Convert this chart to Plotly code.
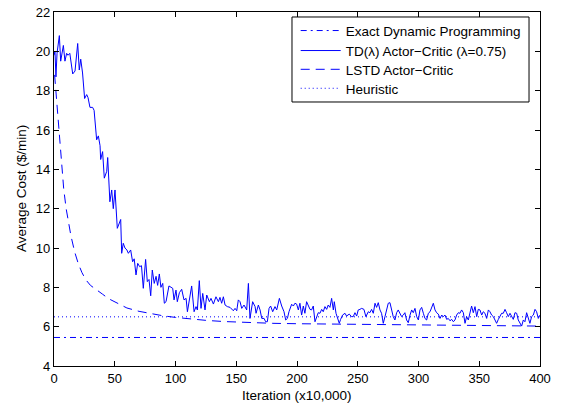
import plotly.graph_objects as go

# ---------------- data ----------------
td_x = [0, 0.8, 1.6, 2.5, 4.4, 5.5, 7.7, 9.0, 10.4, 11.5, 13.0, 15.4, 17.3, 19.5, 20.8, 22.0, 23.5, 25.2, 26.9, 28.0,
        29.6, 31.8, 33.0, 34.0, 35.1, 36.5, 37.9, 38.4, 40.0, 41.4, 43.4, 44.2, 46.0, 47.5, 48.8, 50.2, 52.1, 54.9, 55.7, 57.0,
        58.4, 60.0, 61.2, 63.1, 64.7, 66.0, 67.5, 68.9, 70.5, 72.0, 73.5, 75.4, 76.8, 78.2, 79.6, 80.9, 82.5, 84.0, 85.3, 86.7,
        88.0, 89.5, 90.8, 92.2, 93.4, 94.6,
        97.7, 98.8, 100.4, 101.5, 103.2, 105.1, 107.0, 108.7, 109.8, 111.4, 113.3, 115.3, 116.9, 118.0, 119.6, 121.0, 122.4,
        124.3, 125.7, 127.9, 129.2, 131.2, 133.3, 135.3, 136.6, 138.0, 139.4, 140.8, 142.7, 144.9, 147.6, 149.0, 150.4, 151.7,
        153.1, 154.5, 156.4, 158.6, 160.0, 161.3, 163.5, 165.5, 166.3, 168.2, 169.6, 171.0, 172.9, 174.2, 175.6, 177.0, 178.3,
        180.0, 181.9, 183.3, 185.5, 187.4, 189.3, 190.7, 192.1, 193.4,
        194.2, 195.6, 197.0, 198.3, 199.7, 201.1, 202.4, 203.8, 205.2, 206.5, 207.9, 209.3, 210.7, 212.0, 213.4, 214.8, 216.1,
        217.5, 218.9, 220.3, 221.6, 223.0, 224.4, 225.7, 227.1, 228.5, 229.9, 230.7, 232.1, 233.4, 234.8, 235.9, 237.5, 239.5,
        240.8, 243.0, 244.9, 246.3, 247.7, 249.1, 250.4, 251.8, 253.2, 255.1, 256.7, 258.7, 260.0, 261.4, 262.8, 264.2, 265.5,
        266.9, 268.3, 269.6, 271.0, 272.4, 273.7, 275.1, 276.5, 277.9, 279.2, 280.6, 282.0, 283.3, 284.7, 286.1, 287.5, 288.8,
        290.2, 291.6,
        293.0, 294.4, 295.7, 297.1, 298.5, 299.9, 301.2, 302.6, 304.0, 305.3, 306.7, 308.1, 309.5, 310.8, 312.2, 313.6, 314.9,
        316.3, 317.7, 319.1, 320.4, 321.8, 323.2, 324.5, 325.9, 327.3, 328.7, 330.0, 331.4, 332.8, 334.1, 335.5, 336.9, 338.3,
        339.6, 341.0, 342.4, 343.7, 345.1, 346.5, 347.9, 349.2, 350.6, 352.0, 353.3, 354.7, 356.1, 357.5, 358.8, 360.2, 361.6,
        362.9, 364.3, 365.7, 367.1, 368.4, 369.8, 371.2, 372.5, 373.9, 375.3, 376.7, 378.0, 379.4, 380.8, 382.1, 383.5, 384.9,
        386.3, 387.6, 389.0, 390.4, 391.7, 393.1, 394.5, 395.9, 397.2, 398.6, 400.0]
td_y = [19.8, 20.0, 18.7, 19.9, 20.8, 19.5, 20.3, 19.5, 19.9, 19.8, 19.9, 18.85, 19.0, 20.4, 19.05, 19.6, 18.9, 17.6, 17.8, 17.65,
        17.15, 17.15, 17.0, 16.3, 15.5, 15.7, 15.2, 14.5, 14.9, 13.55, 13.9, 14.6, 12.35, 12.95, 12.0, 12.95, 11.0, 11.45, 9.73, 10.24,
        10.0, 9.9, 9.73, 9.9, 9.3, 9.45, 8.63, 9.22, 9.05, 9.1, 7.95, 9.42, 8.29, 8.4, 7.57, 8.88, 8.2, 8.56, 8.1, 8.68,
        8.0, 8.2, 7.19, 7.27, 7.6, 8.07,
        7.95, 7.36, 7.86, 7.27, 7.73, 7.90, 7.36, 7.44, 6.76, 7.27, 8.07, 6.76, 7.02, 6.85, 8.34, 6.93, 7.69,
        6.85, 7.61, 7.27, 7.44, 7.15, 7.52, 7.27, 7.49, 7.19, 7.52, 7.10, 7.02, 6.98, 6.81, 6.93, 6.81, 7.36,
        7.27, 6.93, 7.10, 6.85, 8.20, 6.42, 7.27, 7.02, 6.68, 7.10, 6.85, 6.42, 6.42, 6.25, 6.25, 6.93, 7.05,
        6.76, 7.02, 6.85, 7.44, 7.05, 6.76, 6.34, 6.42, 6.76,
        6.88, 7.14, 7.05, 7.19, 7.15, 6.85, 7.19, 6.59, 7.05, 6.68, 7.27, 7.02, 6.88, 6.85, 7.05, 6.25, 6.51,
        6.71, 6.68, 6.88, 6.76, 7.02, 6.88, 7.10, 6.98, 7.44, 6.85, 7.27, 6.68, 6.42, 6.17, 6.37, 6.59, 6.68,
        6.54, 6.64, 6.51, 6.51, 6.71, 6.54, 6.85, 6.88, 6.93, 6.88, 6.51, 6.76, 6.71, 6.88, 6.68, 7.19, 6.98,
        7.22, 6.85, 6.68, 6.17, 6.51, 6.93, 7.19, 7.22, 6.76, 6.51, 6.34, 6.71, 6.85, 6.68, 6.51, 6.59, 6.71,
        6.34, 6.20,
        6.59, 6.85, 6.71, 6.93, 6.51, 6.34, 6.85, 6.98, 6.68, 6.42, 6.34, 6.68, 6.76, 6.93, 7.19, 6.85, 6.71,
        6.64, 6.42, 6.59, 6.51, 6.59, 6.37, 6.42, 6.30, 6.37, 6.25, 6.34, 6.59, 6.71, 6.68, 6.85, 6.71, 6.17,
        6.51, 6.34, 6.76, 7.05, 6.71, 7.02, 6.51, 6.88, 6.85, 6.59, 6.76, 6.68, 6.42, 6.85, 6.76, 6.59, 6.51,
        6.34, 6.17, 6.37, 6.54, 6.68, 6.68, 6.88, 6.71, 6.51, 6.68, 6.54, 6.37, 6.71, 6.68, 6.34, 6.17, 6.03,
        6.34, 6.25, 6.71, 6.47, 6.17, 6.51, 6.59, 6.88, 6.76, 6.42, 6.59]

lstd_x = [0.5, 1, 2, 3, 4, 5, 6, 8, 10, 12, 14, 17, 20, 23, 26, 30, 35, 40, 45, 50, 60, 70, 80, 90, 100,
          110, 125, 140, 160, 180, 200, 250, 300, 350, 400]
lstd_y = [18.8, 18.4, 17.4, 16.5, 15.7, 14.9, 14.2, 13.0, 12.0, 11.2, 10.6, 9.8, 9.2, 8.75, 8.4, 8.1, 7.85, 7.65, 7.42, 7.25,
          6.95, 6.78, 6.65, 6.55, 6.47, 6.4, 6.32, 6.26, 6.2, 6.17, 6.15, 6.12, 6.1, 6.07, 6.03]

dp_x = [0, 400]
dp_y = [5.45, 5.45]
heur_x = [0, 400]
heur_y = [6.5, 6.5]

names = ["Exact Dynamic Programming", "TD(λ) Actor−Critic (λ=0.75)", "LSTD Actor−Critic", "Heuristic"]
x_ticks = [0, 50, 100, 150, 200, 250, 300, 350, 400]
y_ticks = [4, 6, 8, 10, 12, 14, 16, 18, 20, 22]
x_title = "Iteration (x10,000)"
y_title = "Average Cost ($/min)"

# ---------------- figure ----------------
blue = "#0000FF"
FONT = "Liberation Sans, Arial, Helvetica, sans-serif"

fig = go.Figure()
fig.add_trace(go.Scatter(x=dp_x, y=dp_y, mode="lines", name=names[0], legend="legend",
                         line=dict(color=blue, width=1, dash="6px,4px,2px,4px")))
fig.add_trace(go.Scatter(x=td_x, y=td_y, mode="lines", name=names[1], legend="legend2",
                         line=dict(color=blue, width=1)))
fig.add_trace(go.Scatter(x=lstd_x, y=lstd_y, mode="lines", name=names[2], legend="legend3",
                         line=dict(color=blue, width=1, dash="9px,6px")))
fig.add_trace(go.Scatter(x=heur_x, y=heur_y, mode="lines", name=names[3], legend="legend4",
                         line=dict(color=blue, width=1, dash="1px,3px")))

axis_common = dict(showline=True, linecolor="black", linewidth=1.2, mirror="ticks",
                   ticks="inside", ticklen=5, tickcolor="black", tickwidth=1,
                   showgrid=False, zeroline=False, automargin=False,
                   tickfont=dict(family=FONT, size=13, color="black"))

# legend frame drawn as a shape so the entry spacing can match
fig.add_shape(type="rect", xref="paper", yref="paper",
              x0=0.4897, x1=0.9774, y0=0.7458, y1=0.9859,
              line=dict(color="black", width=1), fillcolor="white", layer="below")

# axis titles as annotations (fixed positions)
fig.add_annotation(text=x_title, xref="paper", yref="paper", x=0.5, y=-0.0847,
                   xanchor="center", yanchor="middle", showarrow=False,
                   font=dict(family=FONT, size=13.5, color="black"))
fig.add_annotation(text=y_title, xref="paper", yref="paper", x=-0.0679, y=0.5,
                   xanchor="center", yanchor="middle", showarrow=False, textangle=-90,
                   font=dict(family=FONT, size=13.5, color="black"))

def leg(ypos):
    return dict(x=0.4973, y=ypos, xanchor="left", yanchor="middle",
                bgcolor="rgba(0,0,0,0)", borderwidth=0,
                font=dict(family=FONT, size=13.5, color="black"),
                itemwidth=40, tracegroupgap=0)

fig.update_layout(
    width=572, height=407,
    margin=dict(l=54, r=32, t=12, b=41),
    paper_bgcolor="white", plot_bgcolor="white",
    font=dict(family=FONT, size=13, color="black"),
    xaxis=dict(range=[0, 400], tickvals=x_ticks, **axis_common),
    yaxis=dict(range=[4, 22], tickvals=y_ticks, **axis_common),
    legend=leg(0.9470),
    legend2=leg(0.8905),
    legend3=leg(0.8375),
    legend4=leg(0.7839),
    showlegend=True,
)

fig.write_html("out.html")
